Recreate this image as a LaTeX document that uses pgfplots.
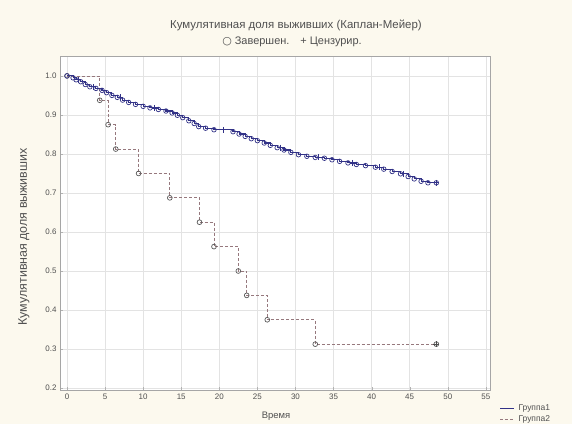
\documentclass[border=0pt]{standalone}
\usepackage{pgfplots}
\pgfplotsset{compat=1.18}
\usepackage{fontspec}
\setmainfont{Liberation Sans}
\newfontfamily\dv{DejaVu Sans}
\definecolor{bgc}{RGB}{252,249,238}
\definecolor{gone}{RGB}{50,50,135}
\definecolor{gtwo}{RGB}{150,120,125}
\definecolor{txt}{RGB}{80,80,80}
\begin{document}
\begin{tikzpicture}[x=1bp,y=1bp]
\fill[bgc] (0,0) rectangle (572,424);
\path[use as bounding box] (0,0) rectangle (572,424);
\begin{axis}[at={(60bp,34bp)}, anchor=south west, scale only axis,
  width=430bp, height=334bp,
  xmin=-0.92, xmax=55.55, ymin=0.195, ymax=1.051,
  xtick={0,5,10,15,20,25,30,35,40,45,50,55},
  ytick={0.2,0.3,0.4,0.5,0.6,0.7,0.8,0.9,1.0},
  yticklabel style={/pgf/number format/fixed,/pgf/number format/precision=1,/pgf/number format/fixed zerofill},
  /pgf/number format/assume math mode=true,
  tick label style={font=\fontsize{8}{9}\selectfont, text=txt},
  axis background/.style={fill=white},
  grid=major, major grid style={gray!22, line width=0.5pt},
  axis line style={gray!70, line width=0.7pt},
  tick style={gray!60}, tick align=inside, major tick length=3bp,
  xtick pos=bottom, ytick pos=left,
  clip=false]
% group 2 (step, 16 subjects)
\addplot[const plot, gtwo, densely dashed, line width=0.7pt, mark=o, mark size=2.4pt,
  mark options={solid, gray!70!black, fill=gray!15}] coordinates {
(0,1.0) (4.3,0.9375) (5.4,0.875) (6.4,0.8125) (9.4,0.75) (13.5,0.6875)
(17.4,0.625) (19.3,0.5625) (22.5,0.5) (23.6,0.4375) (26.3,0.375) (32.6,0.3125)
(48.5,0.3125)};
\addplot[only marks, mark=+, mark size=3pt, gray!60!black] coordinates {(48.5,0.3125)};
% group 1
\addplot[const plot, gone, line width=1.1pt, mark=o, mark size=2.3pt,
  mark options={solid, gone, fill=blue!20!gray!30, line width=0.7pt}] coordinates {
(0,1.0) (0.8,0.995) (1.2,0.99) (1.8,0.985) (2.4,0.978) (3.0,0.972) (3.8,0.968)
(4.6,0.963) (5.2,0.957) (5.9,0.950) (6.6,0.945) (7.3,0.938) (8.1,0.932)
(9.0,0.927) (10.0,0.922) (10.9,0.918) (12.0,0.914) (13.0,0.910) (13.8,0.905)
(14.5,0.899) (15.2,0.893) (16.0,0.885) (16.7,0.878) (17.3,0.870) (18.2,0.866)
(19.3,0.862) (21.8,0.857) (22.6,0.851) (23.4,0.845) (24.2,0.839) (25.0,0.834)
(25.9,0.828) (26.7,0.822) (27.6,0.816) (28.5,0.810) (29.4,0.804) (30.4,0.798)
(31.5,0.794) (32.6,0.791) (33.8,0.789) (34.8,0.785) (35.8,0.781) (36.9,0.777)
(38.0,0.773) (39.2,0.770) (40.5,0.766) (41.6,0.761) (42.7,0.755) (43.8,0.749)
(44.8,0.742) (45.6,0.736) (46.5,0.730) (47.4,0.726) (48.5,0.726)};
\addplot[only marks, mark=+, mark size=3pt, gone, line width=0.7pt] coordinates {
(1.5,0.99) (3.4,0.972) (7.0,0.945) (11.5,0.918) (20.5,0.862) (28.0,0.816)
(33.0,0.791) (37.5,0.777) (41.0,0.766) (44.2,0.749) (48.5,0.726)};
\end{axis}
\node[text=txt, font=\fontsize{11.5}{13}\selectfont] at (296,399) {Кумулятивная доля выживших (Каплан-Мейер)};
\node[text=txt, font=\fontsize{11}{13}\selectfont] at (292,382) {{\dv ○} Завершен.\quad + Цензурир.};
\node[text=txt, font=\fontsize{12.5}{15}\selectfont, rotate=90] at (24,187) {Кумулятивная доля выживших};
\node[text=txt, font=\fontsize{9.5}{11}\selectfont, anchor=south] at (276,0.5) {Время};
\draw[gone, line width=0.8pt] (500,16) -- (514,16);
\node[text=txt, font=\fontsize{8.5}{9}\selectfont, anchor=west] at (515,16) {Группа1};
\draw[gtwo, densely dashed, line width=0.8pt] (500,5) -- (514,5);
\node[text=txt, font=\fontsize{8.5}{9}\selectfont, anchor=west] at (515,5) {Группа2};
\end{tikzpicture}
\end{document}
